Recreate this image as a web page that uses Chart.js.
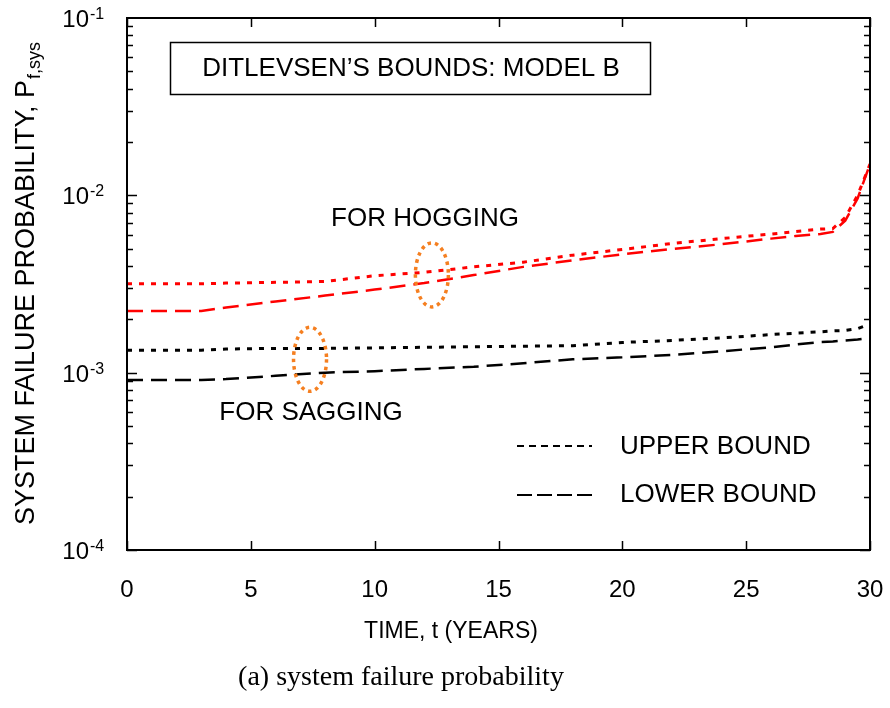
<html>
<head>
<script src="https://cdn.jsdelivr.net/npm/chart.js"></script>
<style>
  body { margin: 0; background: #fff; }
  #wrap { width: 890px; height: 708px; }
</style>
</head>
<body>
<div id="wrap"><canvas id="myChart" width="890" height="708"></canvas></div>
<script>
  // time points (years)
  var years = [0, 3, 4, 6, 8, 10, 12, 14, 16, 18, 20, 22, 24, 26, 27, 28, 28.5, 29, 29.5, 30];

  // hogging (red)
  var hogUpper = [3.17e-3, 3.17e-3, 3.2e-3, 3.23e-3, 3.27e-3, 3.52e-3, 3.68e-3, 3.95e-3, 4.2e-3, 4.6e-3,
                  4.95e-3, 5.35e-3, 5.7e-3, 6.05e-3, 6.25e-3, 6.45e-3, 6.5e-3, 7.5e-3, 1.0e-2, 1.5e-2];
  var hogLower = [2.23e-3, 2.23e-3, 2.33e-3, 2.52e-3, 2.72e-3, 2.94e-3, 3.2e-3, 3.55e-3, 3.95e-3, 4.3e-3,
                  4.65e-3, 4.98e-3, 5.3e-3, 5.7e-3, 5.9e-3, 6.05e-3, 6.22e-3, 7.2e-3, 9.6e-3, 1.5e-2];

  // sagging (black)
  var sagUpper = [1.34e-3, 1.34e-3, 1.36e-3, 1.37e-3, 1.37e-3, 1.38e-3, 1.39e-3, 1.40e-3, 1.41e-3, 1.42e-3,
                  1.48e-3, 1.52e-3, 1.57e-3, 1.64e-3, 1.67e-3, 1.7e-3, 1.72e-3, 1.73e-3, 1.77e-3, 1.88e-3];
  var sagLower = [9.1e-4, 9.1e-4, 9.2e-4, 9.6e-4, 1.0e-3, 1.02e-3, 1.05e-3, 1.08e-3, 1.13e-3, 1.19e-3,
                  1.22e-3, 1.26e-3, 1.32e-3, 1.39e-3, 1.44e-3, 1.49e-3, 1.5e-3, 1.52e-3, 1.54e-3, 1.57e-3];

  var xTicks = [0, 5, 10, 15, 20, 25, 30];
  var yDecades = [1e-4, 1e-3, 1e-2, 1e-1];
  var yExponents = ['-4', '-3', '-2', '-1'];

  // ellipse markers [t, P]
  var hogMark = [12.31, 3.56e-3];
  var sagMark = [7.39, 1.19e-3];

  var sans = "'Liberation Sans', Arial, sans-serif";
  var serif = "'Liberation Serif', 'Times New Roman', serif";

  var pts = (ys) => years.map((t, i) => ({ x: t, y: ys[i] }));

  var dotted = [5, 7];
  var dashed = [16, 8];

  var decor = {
    id: 'decor',
    afterDraw: function(chart) {
      var ctx = chart.ctx;
      var xs = chart.scales.x, ys = chart.scales.y;
      var a = chart.chartArea;
      ctx.save();

      // frame
      ctx.strokeStyle = '#000';
      ctx.lineWidth = 2;
      ctx.setLineDash([]);
      ctx.strokeRect(a.left, a.top, a.right - a.left, a.bottom - a.top);

      // x ticks inward, top and bottom
      ctx.lineWidth = 1.5;
      ctx.beginPath();
      xTicks.forEach(function(t) {
        var px = Math.round(xs.getPixelForValue(t)) + 0.5;
        ctx.moveTo(px, a.bottom); ctx.lineTo(px, a.bottom - 9);
        ctx.moveTo(px, a.top); ctx.lineTo(px, a.top + 9);
      });
      // y ticks, major + minor
      for (var d = 0; d < 3; d++) {
        for (var m = 1; m <= 9; m++) {
          var py = Math.round(ys.getPixelForValue(m * yDecades[d])) + 0.5;
          var len = m === 1 ? 10 : 6;
          ctx.moveTo(a.left, py); ctx.lineTo(a.left + len, py);
          ctx.moveTo(a.right, py); ctx.lineTo(a.right - len, py);
        }
      }
      ctx.stroke();

      // y tick labels 10^n
      ctx.fillStyle = '#000';
      ctx.textBaseline = 'alphabetic';
      yDecades.forEach(function(v, i) {
        var py = ys.getPixelForValue(v);
        ctx.font = '24px ' + sans;
        ctx.textAlign = 'right';
        ctx.fillText('10', 89, py + 9);
        ctx.font = '16px ' + sans;
        ctx.textAlign = 'left';
        ctx.fillText(yExponents[i], 90, py + 1);
      });

      // y axis title
      ctx.save();
      ctx.translate(24, 284);
      ctx.rotate(-Math.PI / 2);
      var main = 'SYSTEM FAILURE PROBABILITY, P';
      ctx.font = '27px ' + sans;
      var w1 = ctx.measureText(main).width;
      ctx.font = '18px ' + sans;
      var w2 = ctx.measureText('f,sys').width;
      var x0 = -(w1 + w2) / 2;
      ctx.textAlign = 'left';
      ctx.textBaseline = 'alphabetic';
      ctx.font = '27px ' + sans;
      ctx.fillText(main, x0, 10);
      ctx.font = '18px ' + sans;
      ctx.fillText('f,sys', x0 + w1 + 1, 16);
      ctx.restore();

      // x title and caption
      ctx.textAlign = 'center';
      ctx.textBaseline = 'middle';
      ctx.font = '23px ' + sans;
      ctx.fillText('TIME, t (YEARS)', 451, 632);
      ctx.font = '28px ' + serif;
      ctx.fillText('(a) system failure probability', 401, 678);

      // title box
      ctx.lineWidth = 1.5;
      ctx.strokeRect(170.5, 42.5, 480, 52);
      ctx.font = '26px ' + sans;
      ctx.fillText('DITLEVSEN\u2019S BOUNDS: MODEL B', 411, 69);

      // group labels
      ctx.fillText('FOR HOGGING', 425, 219);
      ctx.fillText('FOR SAGGING', 311, 413);

      // legend
      ctx.lineWidth = 2;
      ctx.setLineDash([7, 5]);
      ctx.beginPath(); ctx.moveTo(517, 446); ctx.lineTo(592, 446); ctx.stroke();
      ctx.setLineDash([15, 5]);
      ctx.beginPath(); ctx.moveTo(517, 495); ctx.lineTo(592, 495); ctx.stroke();
      ctx.setLineDash([]);
      ctx.textAlign = 'left';
      ctx.fillText('UPPER BOUND', 620, 447);
      ctx.fillText('LOWER BOUND', 620, 495);

      // orange dotted ellipses
      ctx.strokeStyle = '#f57f20';
      ctx.lineWidth = 3.5;
      ctx.setLineDash([3.5, 4]);
      [hogMark, sagMark].forEach(function(mk) {
        ctx.beginPath();
        ctx.ellipse(xs.getPixelForValue(mk[0]), ys.getPixelForValue(mk[1]), 16.5, 32, 0, 0, Math.PI * 2);
        ctx.stroke();
      });

      ctx.restore();
    }
  };

  var ctx = document.getElementById('myChart').getContext('2d');
  var myChart = new Chart(ctx, {
    type: 'line',
    data: {
      datasets: [{
        label: 'Hogging upper',
        data: pts(hogUpper),
        borderColor: '#ff0000',
        borderWidth: 3,
        borderDash: dotted
      }, {
        label: 'Hogging lower',
        data: pts(hogLower),
        borderColor: '#ff0000',
        borderWidth: 2.5,
        borderDash: dashed
      }, {
        label: 'Sagging upper',
        data: pts(sagUpper),
        borderColor: '#000000',
        borderWidth: 3,
        borderDash: dotted
      }, {
        label: 'Sagging lower',
        data: pts(sagLower),
        borderColor: '#000000',
        borderWidth: 2.5,
        borderDash: dashed
      }]
    },
    options: {
      responsive: false,
      animation: false,
      layout: { padding: { top: 18, right: 20, left: 0, bottom: 0 } },
      elements: { point: { radius: 0 }, line: { tension: 0, fill: false } },
      plugins: { legend: { display: false }, tooltip: { enabled: false } },
      scales: {
        x: {
          type: 'linear',
          min: 0,
          max: 30,
          afterBuildTicks: function(scale) { scale.ticks = xTicks.map(v => ({ value: v })); },
          afterFit: function(scale) {
            scale.height = 158;
            scale.paddingLeft = 0;
            scale.paddingRight = 0;
          },
          grid: { display: false, drawTicks: false },
          border: { display: false },
          ticks: { padding: 26, color: '#000', font: { family: sans, size: 24 } }
        },
        y: {
          type: 'logarithmic',
          min: 1e-4,
          max: 1e-1,
          afterBuildTicks: function(scale) { scale.ticks = yDecades.map(v => ({ value: v })); },
          afterFit: function(scale) {
            scale.width = 127;
            scale.paddingTop = 0;
            scale.paddingBottom = 0;
          },
          grid: { display: false, drawTicks: false },
          border: { display: false },
          ticks: { display: false }
        }
      }
    },
    plugins: [decor]
  });
</script>
</body>
</html>
